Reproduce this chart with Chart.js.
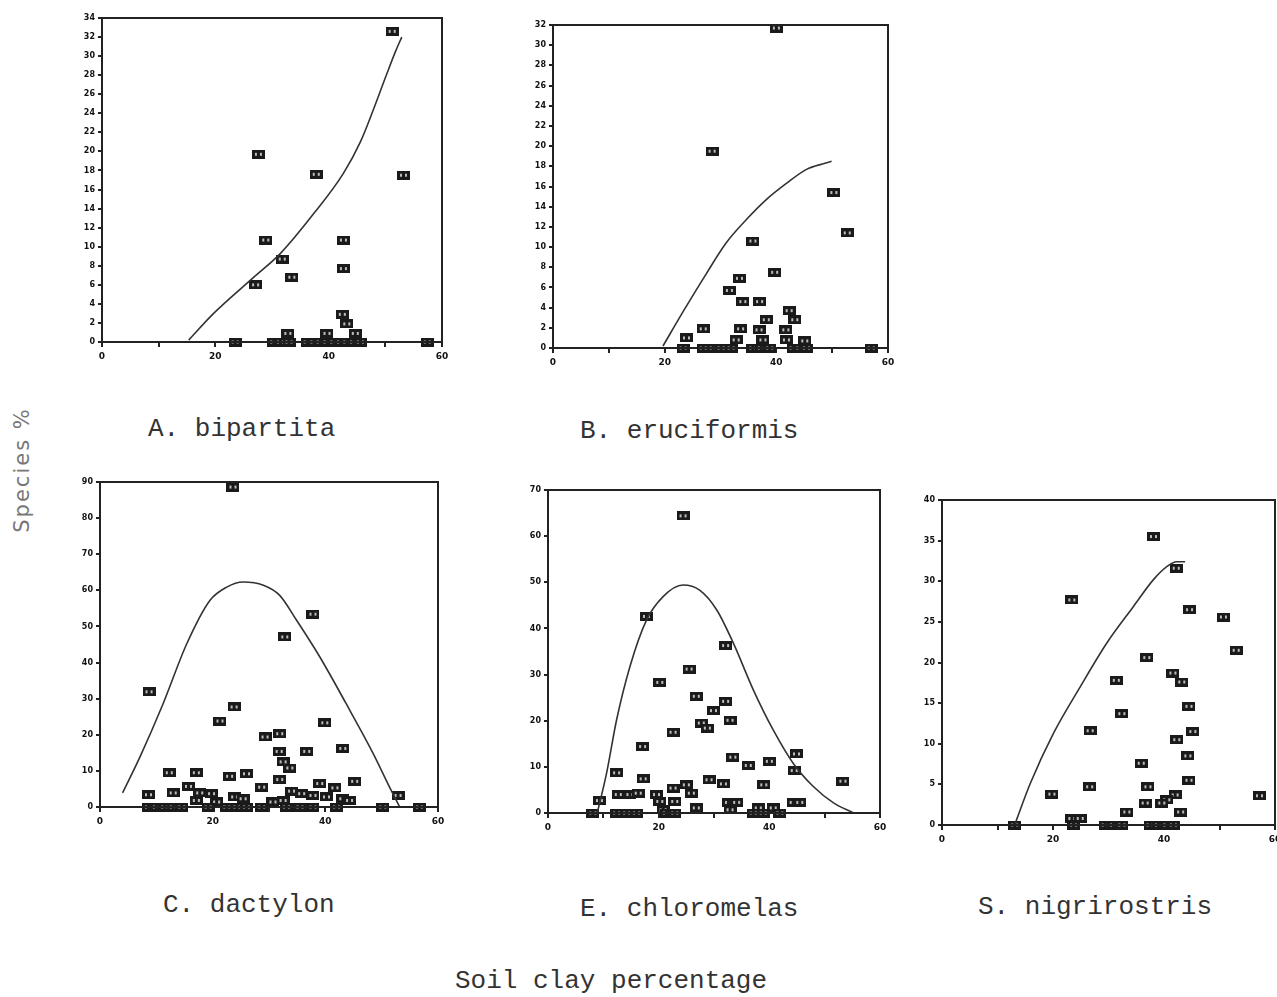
<!DOCTYPE html>
<html>
<head>
<meta charset="utf-8">
<script src="https://cdn.jsdelivr.net/npm/chart.js@4.4.0/dist/chart.umd.min.js"></script>
<style>
  body { margin: 0; background: #fff; width: 1277px; height: 997px; position: relative; overflow: hidden; }
  .panel { position: absolute; }
  .lbl { position: absolute; font-family: "Liberation Mono", "DejaVu Sans Mono", monospace; font-size: 26px; color: #333; white-space: nowrap; }
  #ylab { position: absolute; left: 8px; top: 470px; font-family: "DejaVu Sans", sans-serif; font-size: 21px; color: #777;
          letter-spacing: 2px; transform: translate(-50%, -50%) rotate(-90deg); transform-origin: center; margin-left: 14px; white-space: nowrap; }
</style>
</head>
<body>

<div id="ylab">Species %</div>
<div class="lbl" style="left:148px; top:414px;">A. bipartita</div>
<div class="lbl" style="left:580px; top:416px;">B. eruciformis</div>
<div class="lbl" style="left:163px; top:890px;">C. dactylon</div>
<div class="lbl" style="left:580px; top:894px;">E. chloromelas</div>
<div class="lbl" style="left:978px; top:892px;">S. nigrirostris</div>
<div class="lbl" style="left:455px; top:966px;">Soil clay percentage</div>

<script>
// x 轴：土壤黏粒百分比
const clayTicks = [0, 10, 20, 30, 40, 50, 60];
const clayLabels = [0, 20, 40, 60];

// A. bipartita
const bipartitaObs = [
    [51.2, 32.6], [27.6, 19.7], [37.8, 17.6], [53.2, 17.5], [28.9, 10.7], [42.6, 10.7],
    [31.8, 8.7], [33.5, 6.8], [42.6, 7.7], [27.1, 6.0], [42.4, 2.9], [43.2, 1.9],
    [32.8, 0.9], [39.7, 0.9], [44.7, 0.9],
    [23.5, 0], [30.3, 0], [31.5, 0], [33.0, 0], [36.2, 0], [37.4, 0], [38.5, 0],
    [39.7, 0], [40.9, 0], [42.1, 0], [43.2, 0], [44.4, 0], [45.6, 0], [57.4, 0]
];
const bipartitaFit = [
    [15.3, 0.2], [19.7, 3.0], [26.8, 6.8], [31.5, 9.3], [37.4, 13.5], [42.6, 17.7],
    [45.6, 21.0], [47.9, 24.4], [50.3, 28.2], [51.8, 30.5], [52.9, 32.0]
];

// B. eruciformis
const eruciformisObs = [
    [40.0, 31.7], [28.5, 19.5], [50.3, 15.4], [52.7, 11.4], [35.8, 10.6], [39.7, 7.5],
    [33.4, 6.9], [31.6, 5.7], [34.0, 4.6], [37.0, 4.6], [42.3, 3.7], [38.2, 2.8],
    [43.3, 2.8], [26.9, 1.9], [33.6, 1.9], [36.9, 1.8], [41.7, 1.8], [23.9, 1.0],
    [32.8, 0.8], [37.6, 0.8], [41.8, 0.8], [45.1, 0.7],
    [23.3, 0], [26.9, 0], [28.7, 0], [30.1, 0], [31.9, 0], [35.8, 0], [37.3, 0],
    [38.8, 0], [43.0, 0], [44.2, 0], [45.4, 0], [57.0, 0]
];
const eruciformisFit = [
    [19.7, 0.2], [23.3, 3.6], [27.5, 7.4], [31.0, 10.4], [34.6, 12.7], [38.2, 14.7],
    [41.8, 16.3], [45.4, 17.7], [48.7, 18.3], [49.9, 18.5]
];

// C. dactylon
const dactylonObs = [
    [23.6, 88.6], [37.8, 53.4], [32.8, 47.1], [8.7, 31.9], [23.8, 27.7], [21.3, 23.8],
    [39.9, 23.3], [29.3, 19.4], [31.9, 20.3], [31.8, 15.4], [36.7, 15.4], [43.1, 16.2],
    [32.5, 12.5], [33.7, 10.8], [12.3, 9.5], [17.1, 9.5], [23.0, 8.5], [26.0, 9.2],
    [31.9, 7.6], [28.7, 5.5], [39.0, 6.5], [45.2, 7.1], [41.7, 5.3], [15.7, 5.7],
    [13.0, 3.9], [8.6, 3.4], [17.7, 3.9], [19.8, 3.7], [23.9, 2.8], [25.4, 2.3],
    [34.0, 4.4], [35.8, 3.7], [37.8, 3.2], [40.2, 2.8], [43.1, 2.3], [44.3, 1.8],
    [52.9, 3.2], [17.1, 1.8], [20.7, 1.4], [30.7, 1.4], [32.5, 1.8],
    [8.6, 0], [10.0, 0], [11.5, 0], [13.0, 0], [14.5, 0], [19.2, 0], [22.5, 0],
    [24.3, 0], [26.0, 0], [28.7, 0], [33.1, 0], [35.5, 0], [37.8, 0], [42.0, 0],
    [50.2, 0], [56.7, 0]
];
const dactylonFit = [
    [4.0, 3.9], [7.1, 13.9], [11.2, 28.6], [15.4, 45.2], [19.5, 57.2], [22.5, 60.9],
    [25.4, 62.3], [29.0, 61.4], [31.9, 58.6], [34.9, 51.7], [39.0, 41.6], [43.7, 28.6],
    [48.5, 14.8], [51.4, 5.5], [53.2, 0]
];

// E. chloromelas
const chloromelasObs = [
    [24.4, 64.4], [17.8, 42.6], [32.1, 36.3], [25.5, 31.2], [20.2, 28.3], [26.8, 25.3],
    [32.1, 24.2], [29.9, 22.2], [27.7, 19.5], [28.8, 18.4], [32.9, 20.1], [22.6, 17.5],
    [17.1, 14.4], [33.4, 12.1], [36.2, 10.3], [40.0, 11.2], [44.9, 12.8], [44.5, 9.2],
    [12.4, 8.7], [17.2, 7.4], [53.3, 6.9], [29.1, 7.2], [31.7, 6.3], [39.0, 6.1],
    [25.0, 6.1], [22.6, 5.4], [12.7, 4.0], [14.8, 4.0], [16.3, 4.3], [19.6, 4.0],
    [25.9, 4.3], [20.2, 2.5], [22.9, 2.5], [9.3, 2.7], [32.6, 2.3], [34.1, 2.3],
    [26.8, 1.1], [32.9, 0.7], [38.0, 1.1], [40.7, 1.1], [44.3, 2.3], [45.5, 2.3],
    [20.8, 0.7],
    [8.1, 0], [12.4, 0], [14.2, 0], [16.0, 0], [21.4, 0], [22.9, 0], [37.1, 0],
    [38.9, 0], [41.9, 0]
];
const chloromelasFit = [
    [8.9, 0], [10.6, 8.7], [12.4, 20.2], [14.8, 31.7], [17.8, 41.8], [20.8, 46.9],
    [24.4, 49.4], [27.4, 48.3], [30.5, 44.0], [33.5, 36.8], [37.1, 26.7], [40.7, 18.0],
    [44.3, 10.8], [47.9, 5.8], [51.6, 2.2], [55.2, 0]
];

// S. nigrirostris
const nigrirostrisObs = [
    [38.1, 35.5], [42.2, 31.6], [23.4, 27.7], [44.6, 26.5], [50.7, 25.6], [53.0, 21.5],
    [36.9, 20.6], [31.4, 17.8], [41.6, 18.7], [43.2, 17.6], [44.5, 14.6], [32.4, 13.7],
    [26.7, 11.6], [42.3, 10.5], [45.2, 11.5], [44.3, 8.5], [35.9, 7.6], [44.5, 5.5],
    [37.1, 4.7], [26.6, 4.7], [19.8, 3.8], [57.2, 3.6], [42.0, 3.7], [40.5, 3.1],
    [39.6, 2.7], [36.6, 2.7], [43.0, 1.6], [33.3, 1.6], [23.4, 0.8], [24.9, 0.8],
    [13.1, 0], [23.7, 0], [29.4, 0], [30.9, 0], [32.4, 0], [37.5, 0], [39.0, 0],
    [40.5, 0], [41.7, 0]
];
const nigrirostrisFit = [
    [13.2, 0.2], [15.9, 5.1], [20.1, 11.3], [24.9, 17.0], [29.7, 22.4], [34.5, 26.9],
    [38.1, 30.2], [40.5, 31.8], [42.3, 32.4], [43.8, 32.4]
];

// y 轴范围
const yMaxA = 34, yStepA = 2;
const yMaxB = 32, yStepB = 2;
const yMaxC = 90, yStepC = 10;
const yMaxE = 70, yStepE = 10;
const yMaxS = 40, yStepS = 5;

// 打字机风格的小方框标记
function makeMarker() {
    const c = document.createElement('canvas');
    c.width = 13;
    c.height = 9;
    const g = c.getContext('2d');
    g.fillStyle = '#1a1a1a';
    g.fillRect(0, 0, 13, 9);
    g.fillStyle = '#bbb';
    g.fillRect(3, 3, 2, 3);
    g.fillRect(8, 3, 2, 3);
    return c;
}
const marker = makeMarker();

// 绘图区外框
const frameBox = {
    id: 'frameBox',
    afterDraw(chart) {
        const a = chart.chartArea;
        const ctx = chart.ctx;
        ctx.save();
        ctx.strokeStyle = '#222';
        ctx.lineWidth = 2;
        ctx.strokeRect(a.left, a.top, a.right - a.left, a.bottom - a.top);
        ctx.restore();
    }
};

const PAD_L = 48, PAD_T = 12, PAD_R = 12, PAD_B = 30;

function makePanel(box, obs, fit, yMax, yStep) {
    const w = box.right - box.left;
    const h = box.bottom - box.top;
    const div = document.createElement('div');
    div.className = 'panel';
    div.style.left = (box.left - PAD_L) + 'px';
    div.style.top = (box.top - PAD_T) + 'px';
    const canvas = document.createElement('canvas');
    canvas.width = w + PAD_L + PAD_R;
    canvas.height = h + PAD_T + PAD_B;
    div.appendChild(canvas);
    document.body.appendChild(div);

    new Chart(canvas.getContext('2d'), {
        type: 'scatter',
        data: {
            datasets: [{
                data: fit.map(p => ({ x: p[0], y: p[1] })),
                showLine: true,
                borderColor: '#333',
                borderWidth: 1.6,
                pointRadius: 0,
                cubicInterpolationMode: 'monotone',
                clip: false
            }, {
                data: obs.map(p => ({ x: p[0], y: p[1] })),
                pointStyle: marker,
                pointRadius: 5,
                clip: false
            }]
        },
        options: {
            responsive: false,
            animation: false,
            layout: { padding: { top: PAD_T, right: PAD_R, left: 0, bottom: 0 } },
            plugins: { legend: { display: false }, tooltip: { enabled: false } },
            scales: {
                x: {
                    type: 'linear',
                    min: 0,
                    max: 60,
                    afterBuildTicks: s => { s.ticks = clayTicks.map(v => ({ value: v })); },
                    afterFit: s => { s.height = PAD_B; },
                    grid: { drawOnChartArea: false, tickLength: 5, color: '#222', lineWidth: 2 },
                    border: { color: '#222', width: 2 },
                    ticks: {
                        padding: 4,
                        color: '#111',
                        font: { family: 'DejaVu Sans', size: 9, weight: 'bold' },
                        callback: v => clayLabels.includes(v) ? String(v) : ''
                    }
                },
                y: {
                    min: 0,
                    max: yMax,
                    afterFit: s => { s.width = PAD_L; },
                    grid: { drawOnChartArea: false, tickLength: 4, color: '#222', lineWidth: 2 },
                    border: { color: '#222', width: 2 },
                    ticks: {
                        stepSize: yStep,
                        padding: 3,
                        color: '#111',
                        font: { family: 'DejaVu Sans', size: 8, weight: 'bold' }
                    }
                }
            }
        },
        plugins: [frameBox]
    });
}

window.addEventListener('load', function() {
    makePanel({ left: 102, right: 442, top: 18, bottom: 342 }, bipartitaObs, bipartitaFit, yMaxA, yStepA);
    makePanel({ left: 553, right: 888, top: 25, bottom: 348 }, eruciformisObs, eruciformisFit, yMaxB, yStepB);
    makePanel({ left: 100, right: 438, top: 482, bottom: 807 }, dactylonObs, dactylonFit, yMaxC, yStepC);
    makePanel({ left: 548, right: 880, top: 490, bottom: 813 }, chloromelasObs, chloromelasFit, yMaxE, yStepE);
    makePanel({ left: 942, right: 1275, top: 500, bottom: 825 }, nigrirostrisObs, nigrirostrisFit, yMaxS, yStepS);
});
</script>
</body>
</html>
